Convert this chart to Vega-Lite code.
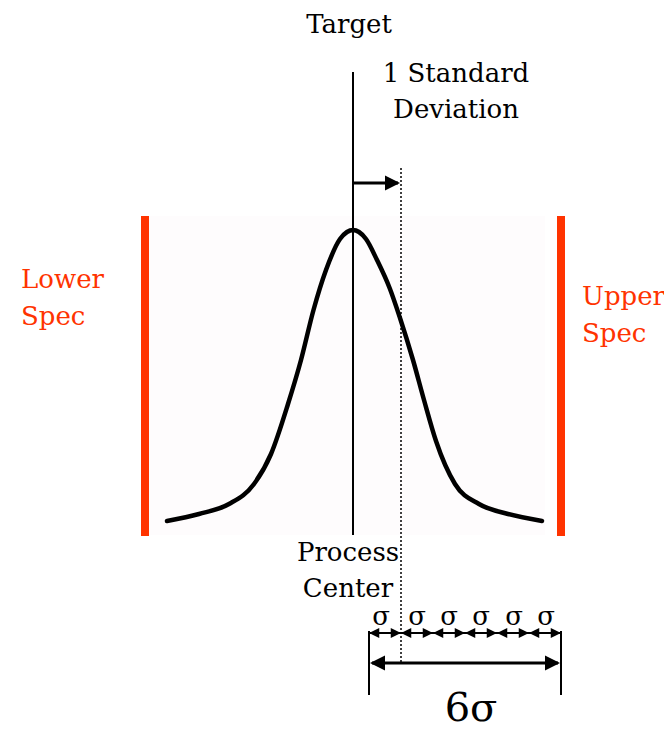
{
  "$schema": "https://vega.github.io/schema/vega-lite/v6.json",
  "width": 664,
  "height": 739,
  "padding": 0,
  "autosize": "none",
  "background": "white",
  "config": {"view": {"stroke": null}, "axis": {"disable": true}},
  "datasets": {
    "zone": [{"name": "spec window", "x": 149, "x2": 545, "y": 216, "y2": 535}],
    "limits": [
      {"limit": "Lower Spec", "x": 141, "x2": 149, "y": 216, "y2": 536},
      {"limit": "Upper Spec", "x": 557, "x2": 565, "y": 216, "y2": 536}
    ],
    "curve": [
      {"x": 167, "y": 521}, {"x": 199, "y": 514}, {"x": 229, "y": 504}, {"x": 254, "y": 484},
      {"x": 271, "y": 454}, {"x": 288, "y": 404}, {"x": 301, "y": 360}, {"x": 313.5, "y": 310},
      {"x": 326, "y": 270}, {"x": 340, "y": 239}, {"x": 347, "y": 232}, {"x": 353, "y": 230},
      {"x": 359, "y": 232}, {"x": 366, "y": 239},
      {"x": 377, "y": 260}, {"x": 390, "y": 289}, {"x": 400, "y": 318}, {"x": 413, "y": 360},
      {"x": 424, "y": 400}, {"x": 436, "y": 441}, {"x": 455, "y": 484}, {"x": 479, "y": 504},
      {"x": 508, "y": 514}, {"x": 542, "y": 521}
    ],
    "target": [{"x": 353, "y": 72, "y2": 535}],
    "sigma1": [{"x": 401, "y": 168, "y2": 662}],
    "hshafts": [
      {"name": "1 sd", "x": 353, "x2": 398, "y": 183},
      {"name": "6 sigma", "x": 372, "x2": 558, "y": 663}
    ],
    "smallshaft": [{"x": 369, "x2": 561, "y": 633}],
    "bounds": [
      {"x": 369, "y": 631, "y2": 695},
      {"x": 561, "y": 631, "y2": 695}
    ],
    "bigheads": [
      {"x": 400, "y": 183, "dir": "right"},
      {"x": 560, "y": 663, "dir": "right"},
      {"x": 370, "y": 663, "dir": "left"}
    ],
    "smallheads": [
      {"x": 369, "y": 633, "dir": "left"}, {"x": 401, "y": 633, "dir": "right"},
      {"x": 401, "y": 633, "dir": "left"}, {"x": 433, "y": 633, "dir": "right"},
      {"x": 433, "y": 633, "dir": "left"}, {"x": 465, "y": 633, "dir": "right"},
      {"x": 465, "y": 633, "dir": "left"}, {"x": 497, "y": 633, "dir": "right"},
      {"x": 497, "y": 633, "dir": "left"}, {"x": 529, "y": 633, "dir": "right"},
      {"x": 529, "y": 633, "dir": "left"}, {"x": 561, "y": 633, "dir": "right"}
    ],
    "labels": [
      {"text": "Target", "x": 349, "y": 33},
      {"text": "1 Standard", "x": 456, "y": 82},
      {"text": "Deviation", "x": 456, "y": 118},
      {"text": "Process", "x": 348, "y": 561},
      {"text": "Center", "x": 348, "y": 597}
    ],
    "speclabels": [
      {"text": "Lower", "x": 21, "y": 288},
      {"text": "Spec", "x": 21, "y": 325},
      {"text": "Upper", "x": 582, "y": 305},
      {"text": "Spec", "x": 582, "y": 342}
    ],
    "sigmas": [
      {"text": "σ", "x": 381, "y": 625}, {"text": "σ", "x": 417, "y": 625},
      {"text": "σ", "x": 449, "y": 625}, {"text": "σ", "x": 481, "y": 625},
      {"text": "σ", "x": 514, "y": 625}, {"text": "σ", "x": 546, "y": 625}
    ],
    "six": [{"text": "6σ", "x": 471, "y": 721}]
  },
  "layer": [
    {
      "data": {"name": "zone"},
      "mark": {"type": "rect", "color": "#fefcfd"},
      "encoding": {
        "x": {"field": "x", "type": "quantitative", "scale": {"domain": [0, 664], "nice": false, "zero": false}},
        "x2": {"field": "x2"},
        "y": {"field": "y", "type": "quantitative", "scale": {"domain": [0, 739], "nice": false, "zero": false, "reverse": true}},
        "y2": {"field": "y2"}
      }
    },
    {
      "data": {"name": "limits"},
      "mark": {"type": "rect", "color": "#ff3300"},
      "encoding": {
        "x": {"field": "x", "type": "quantitative"},
        "x2": {"field": "x2"},
        "y": {"field": "y", "type": "quantitative"},
        "y2": {"field": "y2"}
      }
    },
    {
      "data": {"name": "curve"},
      "mark": {"type": "line", "color": "black", "strokeWidth": 4.5, "interpolate": "monotone", "strokeCap": "round", "strokeJoin": "round"},
      "encoding": {
        "x": {"field": "x", "type": "quantitative"},
        "y": {"field": "y", "type": "quantitative"}
      }
    },
    {
      "data": {"name": "target"},
      "mark": {"type": "rule", "color": "black", "strokeWidth": 2},
      "encoding": {
        "x": {"field": "x", "type": "quantitative"},
        "y": {"field": "y", "type": "quantitative"},
        "y2": {"field": "y2"}
      }
    },
    {
      "data": {"name": "sigma1"},
      "mark": {"type": "rule", "color": "black", "strokeWidth": 1.5, "strokeDash": [2, 2]},
      "encoding": {
        "x": {"field": "x", "type": "quantitative"},
        "y": {"field": "y", "type": "quantitative"},
        "y2": {"field": "y2"}
      }
    },
    {
      "data": {"name": "hshafts"},
      "mark": {"type": "rule", "color": "black", "strokeWidth": 3},
      "encoding": {
        "x": {"field": "x", "type": "quantitative"},
        "x2": {"field": "x2"},
        "y": {"field": "y", "type": "quantitative"}
      }
    },
    {
      "data": {"name": "smallshaft"},
      "mark": {"type": "rule", "color": "black", "strokeWidth": 2},
      "encoding": {
        "x": {"field": "x", "type": "quantitative"},
        "x2": {"field": "x2"},
        "y": {"field": "y", "type": "quantitative"}
      }
    },
    {
      "data": {"name": "bounds"},
      "mark": {"type": "rule", "color": "black", "strokeWidth": 2},
      "encoding": {
        "x": {"field": "x", "type": "quantitative"},
        "y": {"field": "y", "type": "quantitative"},
        "y2": {"field": "y2"}
      }
    },
    {
      "data": {"name": "bigheads"},
      "mark": {"type": "point", "filled": true, "color": "black", "opacity": 1, "size": 900, "strokeWidth": 0},
      "encoding": {
        "x": {"field": "x", "type": "quantitative"},
        "y": {"field": "y", "type": "quantitative"},
        "shape": {"field": "dir", "type": "nominal", "legend": null,
          "scale": {"domain": ["right", "left"], "range": ["M0,0L-1,-0.5L-1,0.5Z", "M0,0L1,-0.5L1,0.5Z"]}}
      }
    },
    {
      "data": {"name": "smallheads"},
      "mark": {"type": "point", "filled": true, "color": "black", "opacity": 1, "size": 420, "strokeWidth": 0},
      "encoding": {
        "x": {"field": "x", "type": "quantitative"},
        "y": {"field": "y", "type": "quantitative"},
        "shape": {"field": "dir", "type": "nominal", "legend": null,
          "scale": {"domain": ["right", "left"], "range": ["M0,0L-1,-0.45L-1,0.45Z", "M0,0L1,-0.45L1,0.45Z"]}}
      }
    },
    {
      "data": {"name": "labels"},
      "mark": {"type": "text", "font": "DejaVu Serif", "fontSize": 26, "color": "black", "align": "center", "baseline": "alphabetic"},
      "encoding": {
        "x": {"field": "x", "type": "quantitative"},
        "y": {"field": "y", "type": "quantitative"},
        "text": {"field": "text"}
      }
    },
    {
      "data": {"name": "speclabels"},
      "mark": {"type": "text", "font": "DejaVu Serif", "fontSize": 26, "color": "#ff3300", "align": "left", "baseline": "alphabetic"},
      "encoding": {
        "x": {"field": "x", "type": "quantitative"},
        "y": {"field": "y", "type": "quantitative"},
        "text": {"field": "text"}
      }
    },
    {
      "data": {"name": "sigmas"},
      "mark": {"type": "text", "font": "DejaVu Serif", "fontSize": 26, "color": "black", "align": "center", "baseline": "alphabetic"},
      "encoding": {
        "x": {"field": "x", "type": "quantitative"},
        "y": {"field": "y", "type": "quantitative"},
        "text": {"field": "text"}
      }
    },
    {
      "data": {"name": "six"},
      "mark": {"type": "text", "font": "DejaVu Serif", "fontSize": 40, "color": "black", "align": "center", "baseline": "alphabetic"},
      "encoding": {
        "x": {"field": "x", "type": "quantitative"},
        "y": {"field": "y", "type": "quantitative"},
        "text": {"field": "text"}
      }
    }
  ]
}
